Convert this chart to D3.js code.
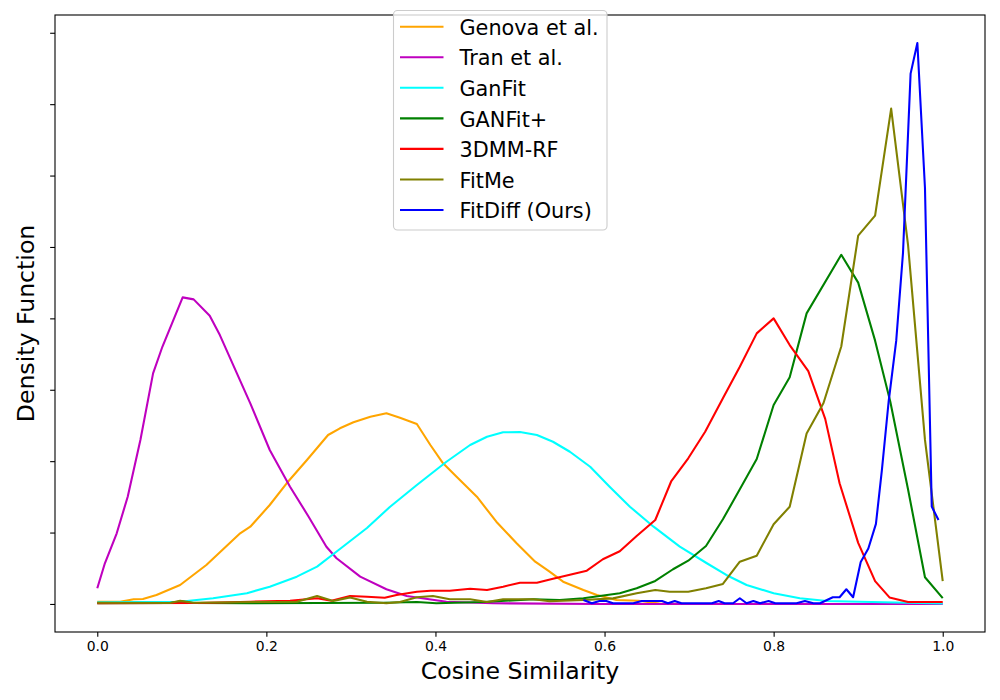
<!DOCTYPE html>
<html>
<head>
<meta charset="utf-8">
<script src="https://cdn.jsdelivr.net/npm/d3@7"></script>
<style>
  html, body { margin: 0; padding: 0; background: #fff; }
  svg { display: block; font-family: "DejaVu Sans", sans-serif; }
</style>
</head>
<body>
<svg id="chart" width="1000" height="700"></svg>
<script>
// ---------- data ----------
const seriesNames = ["Genova et al.", "Tran et al.", "GanFit", "GANFit+", "3DMM-RF", "FitMe", "FitDiff (Ours)"];

const genova = [[0,0.16],[0.027,0.16],[0.043,0.33],[0.054,0.35],[0.070,0.63],[0.098,1.33],[0.129,2.73],[0.169,4.95],[0.181,5.41],[0.204,6.93],[0.224,8.45],[0.248,10.08],[0.273,11.83],[0.287,12.30],[0.303,12.72],[0.323,13.11],[0.342,13.35],[0.358,13.04],[0.378,12.60],[0.394,11.13],[0.409,9.85],[0.425,8.91],[0.449,7.51],[0.472,5.76],[0.496,4.25],[0.518,2.96],[0.535,2.26],[0.551,1.56],[0.575,0.98],[0.591,0.63],[0.614,0.28],[0.640,0.23],[0.665,0.03],[0.700,0.0]];

const tran = [[0,1.10],[0.009,2.85],[0.023,4.95],[0.036,7.51],[0.051,11.48],[0.066,16.15],[0.077,18.01],[0.101,21.47],[0.114,21.33],[0.133,20.18],[0.145,18.83],[0.181,14.05],[0.204,10.78],[0.228,8.21],[0.250,6.11],[0.271,4.01],[0.283,3.20],[0.311,1.91],[0.342,1.03],[0.366,0.56],[0.413,0.16],[0.468,0.05],[0.594,0.0],[1.0,0.0]];

const ganfit = [[0,0.12],[0.098,0.16],[0.137,0.40],[0.177,0.75],[0.204,1.21],[0.236,1.91],[0.260,2.61],[0.287,3.85],[0.319,5.32],[0.346,6.79],[0.378,8.33],[0.413,9.96],[0.441,11.13],[0.461,11.71],[0.480,12.02],[0.500,12.04],[0.520,11.83],[0.539,11.36],[0.559,10.66],[0.583,9.61],[0.606,8.21],[0.630,6.81],[0.658,5.41],[0.689,4.01],[0.721,2.85],[0.744,2.03],[0.768,1.33],[0.800,0.75],[0.831,0.40],[0.863,0.21],[0.902,0.16],[1.0,0.03]];

const ganfitPlus = [[0,0.05],[0.086,0.07],[0.099,0.18],[0.112,0.07],[0.181,0.05],[0.338,0.09],[0.378,0.14],[0.401,0.05],[0.457,0.14],[0.516,0.33],[0.547,0.28],[0.575,0.40],[0.618,0.75],[0.638,1.10],[0.660,1.61],[0.681,2.43],[0.699,3.03],[0.720,4.06],[0.740,5.93],[0.760,8.03],[0.780,10.15],[0.800,13.93],[0.819,15.87],[0.839,20.35],[0.880,24.45],[0.900,22.50],[0.920,18.44],[0.938,14.16],[0.959,8.02],[0.979,1.87],[1.0,0.41]];

const dmmRf = [[0,0.05],[0.121,0.07],[0.181,0.16],[0.228,0.23],[0.260,0.40],[0.277,0.23],[0.299,0.56],[0.319,0.51],[0.340,0.44],[0.354,0.63],[0.378,0.86],[0.394,0.93],[0.417,0.93],[0.441,1.07],[0.461,0.98],[0.480,1.21],[0.500,1.49],[0.520,1.49],[0.539,1.77],[0.559,2.05],[0.579,2.33],[0.598,3.13],[0.618,3.69],[0.638,4.76],[0.660,5.88],[0.679,8.61],[0.699,10.20],[0.719,12.06],[0.740,14.40],[0.760,16.61],[0.780,18.95],[0.800,20.00],[0.819,18.13],[0.841,16.30],[0.861,12.96],[0.878,8.45],[0.900,4.28],[0.920,1.60],[0.937,0.46],[0.959,0.14],[1.0,0.14]];

const fitMe = [[0,0.09],[0.086,0.07],[0.098,0.23],[0.114,0.09],[0.236,0.16],[0.260,0.56],[0.279,0.21],[0.299,0.46],[0.319,0.16],[0.342,0.05],[0.358,0.14],[0.378,0.47],[0.397,0.56],[0.417,0.33],[0.441,0.33],[0.461,0.14],[0.480,0.33],[0.516,0.33],[0.535,0.19],[0.575,0.28],[0.610,0.39],[0.638,0.75],[0.660,0.98],[0.677,0.86],[0.699,0.86],[0.720,1.10],[0.740,1.40],[0.760,2.96],[0.780,3.38],[0.800,5.58],[0.819,6.81],[0.839,11.94],[0.859,14.07],[0.880,18.03],[0.900,25.79],[0.920,27.20],[0.939,34.69],[0.959,25.12],[0.979,11.49],[1.0,1.60]];

const fitDiff = [[0.575,0.28],[0.585,0.05],[0.594,0.21],[0.602,0.21],[0.610,0.05],[0.634,0.05],[0.644,0.21],[0.668,0.21],[0.675,0.05],[0.683,0.21],[0.691,0.05],[0.727,0.05],[0.735,0.21],[0.742,0.05],[0.752,0.05],[0.760,0.40],[0.768,0.05],[0.776,0.21],[0.784,0.05],[0.794,0.21],[0.802,0.05],[0.827,0.05],[0.837,0.21],[0.847,0.05],[0.855,0.05],[0.870,0.47],[0.878,0.47],[0.886,1.03],[0.894,0.47],[0.903,2.94],[0.912,3.88],[0.921,5.61],[0.928,9.35],[0.936,14.16],[0.945,18.44],[0.953,24.58],[0.962,37.14],[0.970,39.28],[0.979,29.13],[0.987,6.82],[0.995,5.88]];

const seriesData = [genova, tran, ganfit, ganfitPlus, dmmRf, fitMe, fitDiff];
const seriesColors = ["#ffa500", "#bf00bf", "#00ffff", "#008000", "#ff0000", "#808000", "#0000ff"];

const xTicks = [0.0, 0.2, 0.4, 0.6, 0.8, 1.0];
const yTicks = [0, 5, 10, 15, 20, 25, 30, 35, 40];

const xLabel = "Cosine Similarity";
const yLabel = "Density Function";

// ---------- layout ----------
const svg = d3.select("#chart");
const L = 55, R = 985, T = 15, B = 632;

const allX = seriesData.flat().map(d => d[0]);
const allY = seriesData.flat().map(d => d[1]);
const [xmin, xmax] = d3.extent(allX);
const [ymin, ymax] = d3.extent(allY);
const xr = xmax - xmin, yr = ymax - ymin;

const x = d3.scaleLinear().domain([xmin - 0.05 * xr, xmax + 0.05 * xr]).range([L, R]);
const y = d3.scaleLinear().domain([ymin - 0.05 * yr, ymax + 0.05 * yr]).range([B, T]);

// lines
const line = d3.line().x(d => x(d[0])).y(d => y(d[1]));
const gLines = svg.append("g");
seriesData.forEach((s, i) => {
  gLines.append("path")
    .datum(s)
    .attr("d", line)
    .attr("fill", "none")
    .attr("stroke", seriesColors[i])
    .attr("stroke-width", 2.08)
    .attr("stroke-linejoin", "round")
    .attr("stroke-linecap", "butt");
});

// axes
const xAxis = d3.axisBottom(x).tickValues(xTicks).tickFormat(d3.format(".1f")).tickSizeInner(4.86).tickSizeOuter(0).tickPadding(4.5);
const yAxis = d3.axisLeft(y).tickValues(yTicks).tickFormat("").tickSizeInner(4.86).tickSizeOuter(0);

const gx = svg.append("g").attr("transform", `translate(0,${B})`).call(xAxis);
gx.select(".domain").remove();
gx.selectAll(".tick line").attr("stroke", "#000").attr("stroke-width", 1.1);
gx.selectAll(".tick text").attr("fill", "#000").style("font-size", "13.9px").style("font-family", "'DejaVu Sans', sans-serif");

const gy = svg.append("g").attr("transform", `translate(${L},0)`).call(yAxis);
gy.select(".domain").remove();
gy.selectAll(".tick line").attr("stroke", "#000").attr("stroke-width", 1.1);

// frame
svg.append("rect")
  .attr("x", L).attr("y", T).attr("width", R - L).attr("height", B - T)
  .attr("fill", "none").attr("stroke", "#000").attr("stroke-width", 1.1);

// labels
svg.append("text")
  .attr("x", (L + R) / 2).attr("y", 679)
  .attr("text-anchor", "middle")
  .style("font-size", "23.6px")
  .text(xLabel);

svg.append("text")
  .attr("transform", `translate(33.5,${(T + B) / 2}) rotate(-90)`)
  .attr("text-anchor", "middle")
  .style("font-size", "23.6px")
  .text(yLabel);

// legend
const lg = svg.append("g");
lg.append("rect")
  .attr("x", 393.5).attr("y", 10.5).attr("width", 213.5).attr("height", 219.5)
  .attr("rx", 4).attr("ry", 4)
  .attr("fill", "#fff").attr("fill-opacity", 0.8)
  .attr("stroke", "#cccccc").attr("stroke-width", 1.1);

seriesNames.forEach((name, i) => {
  const cy = 26.7 + i * 30.55;
  lg.append("line")
    .attr("x1", 400).attr("x2", 443.5).attr("y1", cy).attr("y2", cy)
    .attr("stroke", seriesColors[i]).attr("stroke-width", 2.08);
  lg.append("text")
    .attr("x", 459.5).attr("y", cy + 8.2)
    .style("font-size", "20.8px")
    .text(name);
});
</script>
</body>
</html>
